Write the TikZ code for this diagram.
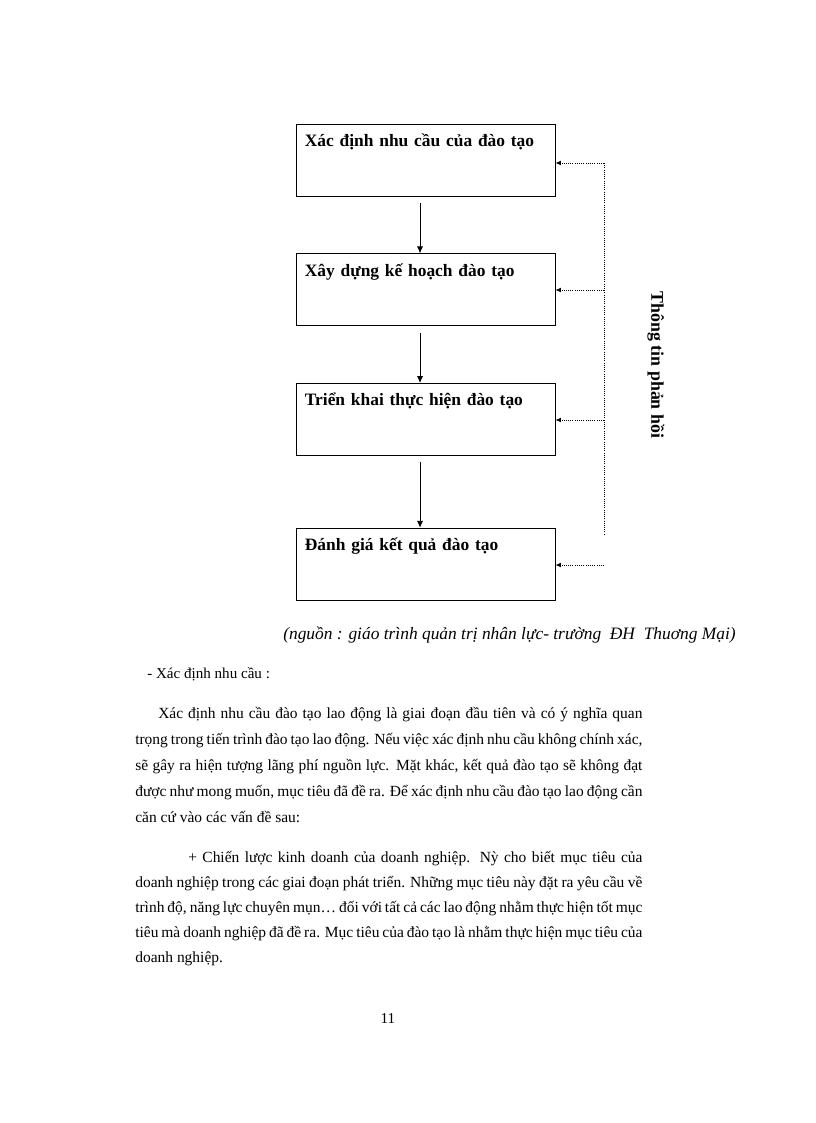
\documentclass[tikz,border=0pt]{standalone}
\usepackage{fontspec}
\setmainfont{Liberation Serif}
\usetikzlibrary{arrows.meta,positioning,calc}
\newcommand{\loosespaces}{\spaceskip=.25em plus .5em minus .12em\relax}
\tikzset{
	stage/.style={
		rectangle, draw=black, line width=0.6pt,
		text width=176pt, inner xsep=6.5pt, inner ysep=0pt,
		text height=16.5pt, text depth=36pt, align=left,
		font=\fontsize{12.7}{15}\selectfont\bfseries
	},
	%
	flow/.style={
		-{Latex[length=5pt,width=4.5pt]}, line width=0.6pt
	},
	%
	feedback/.style={
		densely dotted, line width=0.6pt
	},
	%
	fbarrow/.style={
		feedback, -{Latex[length=4pt,width=3.5pt]}
	},
	%
	bodytext/.style={
		anchor=base west, inner sep=0pt, text width=370pt, align=justify,
		font=\fontsize{11.3}{19}\selectfont
	}
}

\begin{document}
\begin{tikzpicture}[x=0.7295pt,y=-0.7295pt]
\useasboundingbox[fill=white] (0,0) rectangle (816,1123);
%stages
\node (s1) [stage] at (425.5,160) {Xác định nhu cầu của đào tạo};
\node (s2) [stage,below=41.5pt of s1] {Xây dựng kế hoạch đào tạo};
\node (s3) [stage,below=41.5pt of s2] {Triển khai thực hiện đào tạo};
\node (s4) [stage,below=52.5pt of s3] {Đánh giá kết quả đào tạo};

%arrows
\draw[flow] ([xshift=-4pt,yshift=-5pt]s1.south) -- ([xshift=-4pt]s2.north);
\draw[flow] ([xshift=-4pt,yshift=-5pt]s2.south) -- ([xshift=-4pt]s3.north);
\draw[flow] ([xshift=-4pt,yshift=-4.5pt]s3.south) -- ([xshift=-4pt]s4.north);

%feedback
\coordinate (fbtop) at (604,163);
\coordinate (fbbot) at (604,535);
\draw[feedback] (fbtop) -- (fbbot);
\foreach \y/\s in {163/s1,290/s2,420/s3,565/s4}{
	\coordinate (f\s) at (604,\y);
	\draw[fbarrow] (f\s) -- (f\s -| \s.east);
}
\node (fblabel) [rotate=-90, font=\fontsize{13}{15}\selectfont\bfseries] at (656,365) {Thông tin phản hồi};

%text
\node (source) [anchor=base west, inner sep=0pt, font=\fontsize{12.7}{15}\selectfont\itshape] at (283,639) {(nguồn : giáo trình quản trị nhân lực- trường~ ĐH~ Thuơng Mại)};
\node (heading) [anchor=base west, inner sep=0pt, font=\fontsize{11}{13}\selectfont] at (147,678) {- Xác định nhu cầu :};
\node (para1) [bodytext] at (135,718) {\loosespaces\hspace*{16.8pt}Xác định nhu cầu đào tạo lao động là giai đoạn đầu tiên và có ý nghĩa quan\linebreak
trọng trong tiến trình đào tạo lao động. Nếu việc xác định nhu cầu không chính xác,\linebreak
sẽ gây ra hiện tượng lãng phí nguồn lực. Mặt khác, kết quả đào tạo sẽ không đạt\linebreak
được như mong muốn, mục tiêu đã đề ra. Để xác định nhu cầu đào tạo lao động cần\linebreak
căn cứ vào các vấn đề sau:};
\node (para2) [bodytext, font=\fontsize{11.3}{18.4}\selectfont] at (135,862) {\loosespaces\hspace*{38.7pt}+ Chiến lược kinh doanh của doanh nghiệp. Nỳ cho biết mục tiêu của\linebreak
doanh nghiệp trong các giai đoạn phát triển. Những mục tiêu này đặt ra yêu cầu về\linebreak
trình độ, năng lực chuyên mụn… đối với tất cả các lao động nhằm thực hiện tốt mục\linebreak
tiêu mà doanh nghiệp đã đề ra. Mục tiêu của đào tạo là nhằm thực hiện mục tiêu của\linebreak
doanh nghiệp.};
\node (pagenum) [anchor=base, inner sep=0pt, font=\fontsize{11}{13}\selectfont] at (388,1023) {11};
\end{tikzpicture}
\end{document}
